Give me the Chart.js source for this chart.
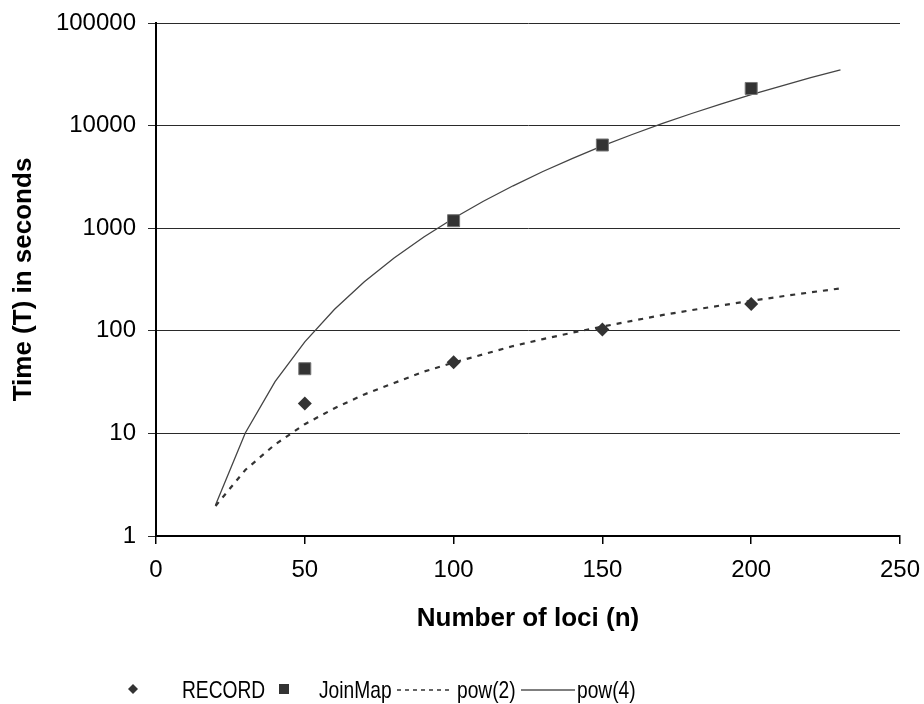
<!DOCTYPE html>
<html>
<head>
<meta charset="utf-8">
<script src="https://cdn.jsdelivr.net/npm/chart.js@4.4.1/dist/chart.umd.min.js"></script>
<style>
  html, body { margin: 0; padding: 0; background: #ffffff; }
  #wrap { position: relative; width: 924px; height: 704px; }
  #c { position: absolute; left: 0; top: 0; }
  .lg { position: absolute; font-family: "Liberation Sans", Arial, sans-serif; font-size: 24px; line-height: 24px; color: #000; white-space: nowrap; transform: scaleX(0.8); transform-origin: 0 0; }
  #lgsvg { position: absolute; left: 0; top: 0; }
</style>
</head>
<body>
<div id="wrap">
  <canvas id="c" width="924" height="704"></canvas>
  <svg id="lgsvg" width="924" height="704">
    <polygon points="133,684 138,689 133,694 128,689" fill="#333"/>
    <rect x="279" y="684" width="10" height="10" fill="#333"/>
    <line x1="397" y1="690" x2="453" y2="690" stroke="#333" stroke-width="1.6" stroke-dasharray="4,4"/>
    <line x1="521" y1="690" x2="575" y2="690" stroke="#555" stroke-width="1.3"/>
  </svg>
  <span class="lg" style="left:182px; top:678px;">RECORD</span>
  <span class="lg" style="left:319px; top:678px;">JoinMap</span>
  <span class="lg" style="left:457px; top:678px;">pow(2)</span>
  <span class="lg" style="left:577px; top:678px;">pow(4)</span>
</div>
<script>
// ---- data ----
const lociN = [50, 100, 150, 200];
const recordTime = [19.6, 49.3, 103, 182];
const joinMapTime = [42.7, 1183, 6470, 23000];

const trendN = [20, 30, 40, 50, 60, 70, 80, 90, 100, 110, 120, 130, 140, 150, 160, 170, 180, 190, 200, 210, 220, 230];
const pow2Time = [1.96, 4.4, 7.8, 12.3, 17.6, 24, 31, 40, 49, 59, 71, 83, 96, 110, 125, 142, 159, 177, 196, 216, 237, 259];
const pow4Time = [2.0, 10.1, 32, 78, 162, 300, 512, 820, 1250, 1830, 2590, 3570, 4800, 6330, 8190, 10440, 13120, 16290, 20000, 24310, 29280, 35000];

const yTickValues = [1, 10, 100, 1000, 10000, 100000];
const xTickValues = [0, 50, 100, 150, 200, 250];

const seriesNames = ['RECORD', 'JoinMap', 'pow(2)', 'pow(4)'];
const xTitle = 'Number of loci (n)';
const yTitle = 'Time (T) in seconds';

function pts(xs, ys) { return xs.map((x, i) => ({ x: x, y: ys[i] })); }

const FONT = '"Liberation Sans", Arial, sans-serif';

new Chart(document.getElementById('c'), {
  type: 'scatter',
  data: {
    datasets: [
      { label: seriesNames[0], data: pts(lociN, recordTime), pointStyle: 'rectRot', pointRadius: 7,
        backgroundColor: '#333333', borderColor: '#333333', borderWidth: 0, showLine: false },
      { label: seriesNames[1], data: pts(lociN, joinMapTime), pointStyle: 'rect', pointRadius: 8.5,
        backgroundColor: '#333333', borderColor: '#777777', borderWidth: 1, showLine: false },
      { label: seriesNames[2], data: pts(trendN, pow2Time), showLine: true, pointRadius: 0,
        borderColor: '#333333', borderWidth: 2.2, borderDash: [5, 6], tension: 0, fill: false },
      { label: seriesNames[3], data: pts(trendN, pow4Time), showLine: true, pointRadius: 0,
        borderColor: '#444444', borderWidth: 1.3, tension: 0, fill: false }
    ]
  },
  options: {
    responsive: false,
    animation: false,
    devicePixelRatio: 1,
    layout: { padding: { left: 4, top: 23, right: 24, bottom: 66 } },
    plugins: { legend: { display: false }, tooltip: { enabled: false } },
    scales: {
      x: {
        type: 'linear', min: 0, max: 250,
        afterBuildTicks: (s) => { s.ticks = xTickValues.map(v => ({ value: v })); },
        afterFit: (s) => { s.height = 102; s.paddingLeft = 0; s.paddingRight = 0; },
        border: { display: true, color: '#000', width: 2 },
        grid: { drawOnChartArea: false, drawTicks: true, tickLength: 8, color: '#000', lineWidth: 1.5 },
        ticks: { color: '#000', padding: 12, maxRotation: 0, font: { family: FONT, size: 24 } },
        title: { display: true, text: xTitle, color: '#000', padding: 4, font: { family: FONT, size: 26, weight: 'bold' } }
      },
      y: {
        type: 'logarithmic', min: 1, max: 100000,
        afterBuildTicks: (s) => { s.ticks = yTickValues.map(v => ({ value: v })); },
        afterFit: (s) => { s.width = 152; s.paddingTop = 0; s.paddingBottom = 0; },
        border: { display: true, color: '#000', width: 2 },
        grid: { drawOnChartArea: true, drawTicks: true, tickLength: 8, color: '#2a2a2a', lineWidth: 1 },
        ticks: { color: '#000', padding: 12, font: { family: FONT, size: 24 },
                 callback: (v) => String(v) },
        title: { display: true, text: yTitle, color: '#000', padding: 4, font: { family: FONT, size: 26, weight: 'bold' } }
      }
    }
  }
});
</script>
</body>
</html>
